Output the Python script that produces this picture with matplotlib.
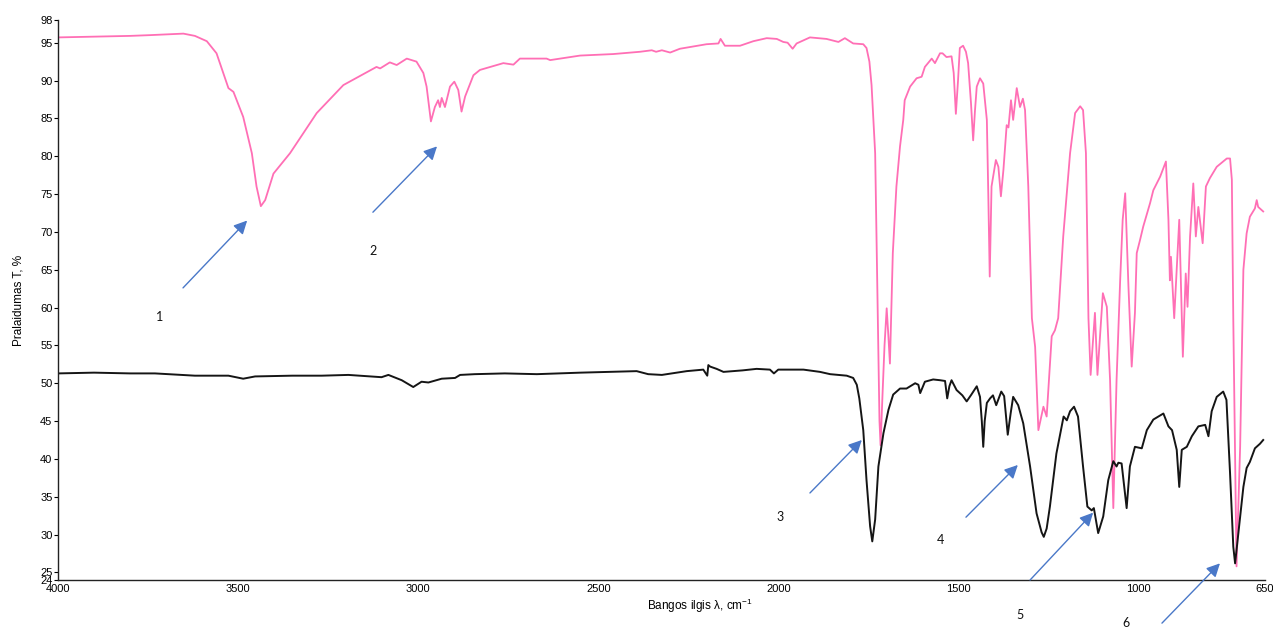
import matplotlib
matplotlib.use("Agg")
import matplotlib.pyplot as plt
from matplotlib import font_manager

# ---------------- data ----------------
pink_wn = [4000, 3900, 3800, 3745, 3700, 3652, 3620, 3587, 3560, 3527, 3513, 3486, 3462, 3449,
           3437, 3425, 3402, 3356, 3282, 3208, 3116, 3106, 3079, 3060, 3032, 3005, 2986, 2977,
           2965, 2954, 2945, 2940, 2935, 2926, 2912, 2900, 2889, 2880, 2870, 2847, 2829, 2764,
           2736, 2718, 2644, 2634, 2551, 2459, 2385, 2352, 2340, 2324, 2301, 2274, 2200, 2167,
           2161, 2149, 2107, 2070, 2033, 2005, 1987, 1975, 1961, 1950, 1913, 1867, 1834, 1816,
           1793, 1765, 1756, 1748, 1742, 1732, 1726, 1720, 1717, 1712, 1706, 1700, 1695, 1691,
           1687, 1683, 1673, 1663, 1654, 1650, 1635, 1617, 1603, 1594, 1575, 1566, 1552, 1545,
           1534, 1520, 1514, 1508, 1502, 1497, 1488, 1480, 1474, 1466, 1460, 1455, 1450, 1441,
           1432, 1422, 1418, 1414, 1409, 1397, 1390, 1383, 1376, 1367, 1362, 1355, 1349, 1339,
           1330, 1322, 1316, 1307, 1297, 1288, 1279, 1265, 1256, 1242, 1233, 1224, 1210, 1191,
           1177, 1163, 1155, 1147, 1140, 1134, 1122, 1115, 1100, 1089, 1080, 1071, 1062, 1052,
           1045, 1038, 1029, 1020, 1011, 1006, 997, 988, 969, 960, 941, 925, 918, 914, 911, 902,
           888, 878, 870, 865, 858, 849, 842, 835, 823, 814, 803, 784, 756, 747, 742, 738, 729,
           719, 710, 701, 692, 678, 673, 669, 655]
pink_T = [95.7, 95.8, 95.9, 96.0, 96.1, 96.2, 95.9, 95.2, 93.6, 89.0, 88.5, 85.2, 80.4, 76.0,
          73.4, 74.2, 77.7, 80.4, 85.7, 89.4, 91.8, 91.6, 92.4, 92.05, 92.9, 92.5, 91.0, 89.2,
          84.6, 86.5, 87.4, 86.5, 87.7, 86.5, 89.2, 89.85, 88.75, 85.9, 87.9, 90.7, 91.4, 92.3,
          92.1, 92.9, 92.9, 92.7, 93.3, 93.5, 93.8, 94.0, 93.8, 94.0, 93.7, 94.2, 94.8, 94.9,
          95.5, 94.6, 94.6, 95.2, 95.6, 95.5, 95.1, 95.0, 94.2, 94.9, 95.7, 95.5, 95.1, 95.6,
          94.9, 94.8, 94.3, 92.5, 89.4, 80.4, 62.8, 45.0, 41.8, 48.0, 55.0, 59.9, 56.0, 52.6,
          60.0, 67.2, 76.0, 81.3, 84.8, 87.4, 89.2, 90.3, 90.5, 91.8, 92.9, 92.3, 93.6, 93.6,
          93.1, 93.2, 91.0, 85.6, 90.0, 94.3, 94.6, 93.8, 92.3, 87.0, 82.1, 86.0, 89.2, 90.3,
          89.6, 84.8, 75.0, 64.1, 76.0, 79.5, 78.6, 74.7, 78.2, 84.1, 83.8, 87.4, 84.8, 89.0,
          86.5, 87.6, 86.1, 76.0, 58.6, 54.8, 43.8, 46.9, 45.6, 56.2, 57.0, 58.6, 69.4, 80.4,
          85.7, 86.6, 86.1, 80.4, 58.6, 51.1, 59.3, 51.1, 61.9, 60.1, 50.4, 33.5, 50.4, 63.6,
          71.6, 75.1, 62.8, 52.2, 59.3, 67.2, 68.9, 70.7, 73.8, 75.5, 77.3, 79.3, 71.6, 63.6, 66.7, 58.6,
          71.6, 53.5, 64.5, 60.1, 69.4, 76.4, 69.4, 73.3, 68.5, 76.0, 77.1, 78.6, 79.7, 79.7, 76.9, 58.4, 25.8,
          41.6, 65.0, 69.8, 72.0, 73.1, 74.2, 73.3, 72.7]

black_wn = [4000, 3900, 3800, 3731, 3620, 3527, 3486, 3453, 3350, 3268, 3194, 3102, 3083, 3046,
            3014, 2991, 2972, 2935, 2898, 2884, 2843, 2760, 2671, 2550, 2394, 2362, 2324, 2255,
            2209, 2198, 2195, 2190, 2172, 2153, 2100, 2061, 2024, 2013, 2001, 1931, 1885, 1857,
            1811, 1793, 1783, 1776, 1765, 1756, 1746, 1740, 1732, 1723, 1709, 1695, 1682, 1663,
            1645, 1621, 1612, 1607, 1600, 1594, 1571, 1552, 1538, 1532, 1526, 1520, 1506, 1490,
            1478, 1465, 1450, 1441, 1436, 1432, 1428, 1422, 1413, 1405, 1396, 1382, 1374, 1364,
            1356, 1349, 1335, 1321, 1302, 1284, 1270, 1264, 1256, 1247, 1229, 1209, 1200, 1191,
            1180, 1169, 1155, 1143, 1131, 1125, 1113, 1099, 1085, 1071, 1062, 1057, 1048, 1034,
            1025, 1011, 992, 978, 960, 932, 918, 908, 895, 888, 881, 867, 853, 835, 816, 807, 798,
            784, 766, 757, 747, 738, 733, 724, 710, 701, 692, 678, 664, 655]
black_T = [51.3, 51.4, 51.3, 51.3, 51.0, 51.0, 50.6, 50.9, 51.0, 51.0, 51.1, 50.8, 51.1, 50.4,
           49.5, 50.2, 50.1, 50.6, 50.7, 51.1, 51.2, 51.3, 51.2, 51.4, 51.6, 51.2, 51.1, 51.6,
           51.8, 51.0, 52.4, 52.2, 51.9, 51.5, 51.7, 51.9, 51.8, 51.3, 51.8, 51.8, 51.5, 51.2,
           51.0, 50.7, 49.8, 48.0, 43.8, 37.2, 31.1, 29.1, 32.0, 39.0, 43.4, 46.5, 48.5, 49.3,
           49.3, 50.0, 49.8, 48.7, 49.5, 50.2, 50.5, 50.4, 50.3, 48.0, 49.6, 50.4, 49.1, 48.4,
           47.6, 48.5, 49.6, 48.2, 45.0, 41.6, 45.0, 47.4, 48.0, 48.4, 47.1, 48.9, 48.3, 43.2,
           46.0, 48.2, 47.1, 44.7, 39.0, 32.8, 30.3, 29.7, 30.8, 33.7, 40.7, 45.6, 45.1, 46.3,
           46.9, 45.6, 39.0, 33.7, 33.2, 33.5, 30.2, 32.4, 37.2, 39.7, 39.0, 39.5, 39.4, 33.5,
           39.0, 41.6, 41.4, 43.8, 45.2, 46.0, 44.3, 43.8, 41.2, 36.3, 41.2, 41.6, 43.0, 44.3, 44.5, 43.0, 46.3,
           48.2, 48.9, 47.8, 38.1, 28.4, 26.2, 30.2, 36.3, 38.8, 39.6, 41.4, 42.0, 42.5]

x_ticks = [4000, 3500, 3000, 2500, 2000, 1500, 1000, 650]
y_ticks = [24, 25, 30, 35, 40, 45, 50, 55, 60, 65, 70, 75, 80, 85, 90, 95, 98]

peak_labels = ["1", "2", "3", "4", "5", "6"]
# arrow tail / head (wavenumber, T) and label position
arrow_tails = [(3653, 62.6), (3126, 72.6), (1913, 35.5), (1480, 32.3), (1302, 24.0), (936, 18.3)]
arrow_heads = [(3475, 71.5), (2948, 81.3), (1769, 42.5), (1336, 39.2), (1127, 32.9), (775, 26.2)]
label_pos = [(3719, 58.8), (3126, 67.5), (1996, 32.3), (1552, 29.3), (1330, 19.4), (1036, 18.3)]

# ---------------- fonts ----------------
names = {f.name for f in font_manager.fontManager.ttflist}
tick_font = "Liberation Sans Narrow" if "Liberation Sans Narrow" in names else "Liberation Sans"
num_font = "Lato" if "Lato" in names else "DejaVu Sans"

# ---------------- figure ----------------
fig = plt.figure(figsize=(12.73, 6.28), dpi=100)
ax = fig.add_axes([58 / 1273, 1 - 580 / 628, 1207 / 1273, 560 / 628])

ax.plot(pink_wn, pink_T, color="#ff6fb5", lw=1.3, solid_joinstyle="round")
ax.plot(black_wn, black_T, color="#151515", lw=1.4, solid_joinstyle="round")

ax.set_xlim(4000, 650)
ax.set_ylim(24, 98)
ax.set_xticks(x_ticks)
ax.set_yticks(y_ticks)
ax.set_xticklabels([str(v) for v in x_ticks], fontfamily=tick_font, fontsize=8)
ax.set_yticklabels([str(v) for v in y_ticks], fontfamily=tick_font, fontsize=8)
ax.tick_params(axis="x", length=0, pad=3)
ax.tick_params(axis="y", length=3, width=0.8, pad=1)

for s in ("top", "right"):
    ax.spines[s].set_visible(False)
for s in ("left", "bottom"):
    ax.spines[s].set_linewidth(1.0)
    ax.spines[s].set_color("#222222")

ax.set_xlabel("Bangos ilgis λ, cm$^{\\mathregular{-1}}$", fontfamily=tick_font, fontsize=8.5)
ax.xaxis.set_label_coords(0.532, -0.030)
ax.set_ylabel("Pralaidumas T, %", fontfamily=tick_font, fontsize=8.5)
ax.yaxis.set_label_coords(-0.028, 0.5)

for lab, t, h, p in zip(peak_labels, arrow_tails, arrow_heads, label_pos):
    ax.annotate("", xy=h, xytext=t, annotation_clip=False,
                arrowprops=dict(arrowstyle="-|>", color="#4a78c8", lw=1.0,
                                mutation_scale=20, shrinkA=0, shrinkB=0))
    ax.text(p[0], p[1], lab, fontfamily=num_font, fontsize=9, ha="center", va="center",
            clip_on=False, color="#111111")

fig.savefig("out.png", dpi=100)
